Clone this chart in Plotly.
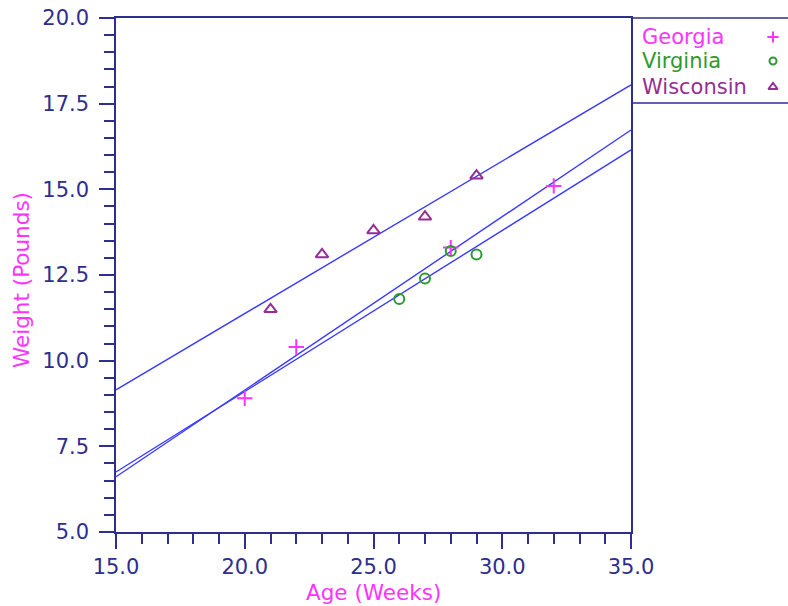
import numpy as np
import plotly.graph_objects as go

# ---------------- data ----------------
groups = ["Georgia", "Virginia", "Wisconsin"]
georgia_age = [20, 22, 28, 32]
georgia_weight = [8.9, 10.4, 13.3, 15.1]
virginia_age = [26, 27, 28, 29]
virginia_weight = [11.8, 12.4, 13.2, 13.1]
wisconsin_age = [21, 23, 25, 27, 29]
wisconsin_weight = [11.5, 13.1, 13.8, 14.2, 15.4]

x_tickvals = [15, 20, 25, 30, 35]
x_ticktext = ["15.0", "20.0", "25.0", "30.0", "35.0"]
y_tickvals = [5, 7.5, 10, 12.5, 15, 17.5, 20]
y_ticktext = ["5.0", "7.5", "10.0", "12.5", "15.0", "17.5", "20.0"]
x_range = [15, 35]
y_range = [5, 20]

# ---------------- layout constants ----------------
W, H = 788, 606
L, R, T, B = 116, 631, 18, 532
NAVY = "#2e2e8e"
LINE_BLUE = "#3a3aff"
colors = {"Georgia": "#ff33ff", "Virginia": "#2e9a2e", "Wisconsin": "#952e95"}
symbols = {"Georgia": "cross-thin-open", "Virginia": "circle-open", "Wisconsin": "triangle-up-open"}
sizes = {"Georgia": 11, "Virginia": 10, "Wisconsin": 11}
FONT = "DejaVu Sans"

def px(x):
    return x / W

def py(y):
    return (H - y) / H

series = {
    "Georgia": (georgia_age, georgia_weight),
    "Virginia": (virginia_age, virginia_weight),
    "Wisconsin": (wisconsin_age, wisconsin_weight),
}

fig = go.Figure()

# fitted lines (least squares per group)
xs_line = np.array(x_range, dtype=float)
for g in groups:
    xa, ya = series[g]
    m, c = np.polyfit(xa, ya, 1)
    fig.add_trace(go.Scatter(x=xs_line, y=m * xs_line + c, mode="lines",
                             line=dict(color=LINE_BLUE, width=1.4),
                             showlegend=False, hoverinfo="skip"))

# points
for g in groups:
    xa, ya = series[g]
    fig.add_trace(go.Scatter(x=xa, y=ya, mode="markers", name=g,
                             marker=dict(symbol=symbols[g], size=sizes[g],
                                         color=colors[g],
                                         line=dict(color=colors[g], width=2)),
                             showlegend=False, cliponaxis=False))

# legend markers on helper axis (pixel coordinates of the legend box)
legend_y = [37, 61, 87]
legend_marker_x = 773
for g, ly in zip(groups, legend_y):
    fig.add_trace(go.Scatter(x=[legend_marker_x], y=[ly], mode="markers",
                             xaxis="x2", yaxis="y2",
                             marker=dict(symbol=symbols[g], size=sizes[g] - 3,
                                         color=colors[g],
                                         line=dict(color=colors[g], width=2)),
                             showlegend=False, hoverinfo="skip", cliponaxis=False))

annotations = []
for g, ly in zip(groups, legend_y):
    annotations.append(dict(text=g, x=px(640), y=py(ly), xref="paper", yref="paper",
                            xanchor="left", yanchor="middle", showarrow=False,
                            font=dict(family=FONT, size=21, color=colors[g])))
annotations.append(dict(text="Age (Weeks)", x=px((L + R) / 2), y=py(592),
                        xref="paper", yref="paper", xanchor="center", yanchor="middle",
                        showarrow=False, font=dict(family=FONT, size=21.5, color="#ff33ff")))
annotations.append(dict(text="Weight (Pounds)", x=px(21), y=py(280), textangle=-90,
                        xref="paper", yref="paper", xanchor="center", yanchor="middle",
                        showarrow=False, font=dict(family=FONT, size=21.5, color="#ff33ff")))

shapes = [
    dict(type="line", xref="paper", yref="paper", x0=px(R), x1=1.0, y0=py(T), y1=py(T),
         line=dict(color=NAVY, width=1.5)),
    dict(type="line", xref="paper", yref="paper", x0=px(R), x1=1.0, y0=py(103), y1=py(103),
         line=dict(color=NAVY, width=1.5)),
]

axis_common = dict(showgrid=False, zeroline=False, showline=True, linecolor=NAVY,
                   linewidth=1.5, mirror=True, ticks="outside", ticklen=15,
                   tickwidth=1.5, tickcolor=NAVY, automargin=False,
                   tickfont=dict(family=FONT, size=21, color=NAVY))

fig.update_layout(
    template="none",
    width=W, height=H,
    margin=dict(l=0, r=0, t=0, b=0, pad=0, autoexpand=False),
    paper_bgcolor="white", plot_bgcolor="white",
    showlegend=False,
    xaxis=dict(domain=[px(L), px(R)], range=x_range, tickmode="array",
               tickvals=x_tickvals, ticktext=x_ticktext, ticklabelstandoff=0,
               minor=dict(dtick=1, tick0=15, ticks="outside", ticklen=10,
                          tickwidth=1.5, tickcolor=NAVY),
               **axis_common),
    yaxis=dict(domain=[py(B), py(T)], range=y_range, tickmode="array",
               tickvals=y_tickvals, ticktext=y_ticktext, ticklabelstandoff=6,
               minor=dict(dtick=0.5, tick0=5, ticks="outside", ticklen=10,
                          tickwidth=1.5, tickcolor=NAVY),
               **axis_common),
    xaxis2=dict(domain=[px(R), 1.0], range=[R, W], visible=False, anchor="y2"),
    yaxis2=dict(domain=[0, 1], range=[H, 0], visible=False, anchor="x2"),
    annotations=annotations,
    shapes=shapes,
)

fig.write_html("out.html", config={"displayModeBar": False},
               post_script="document.body.style.margin='0';document.body.style.padding='0';")
